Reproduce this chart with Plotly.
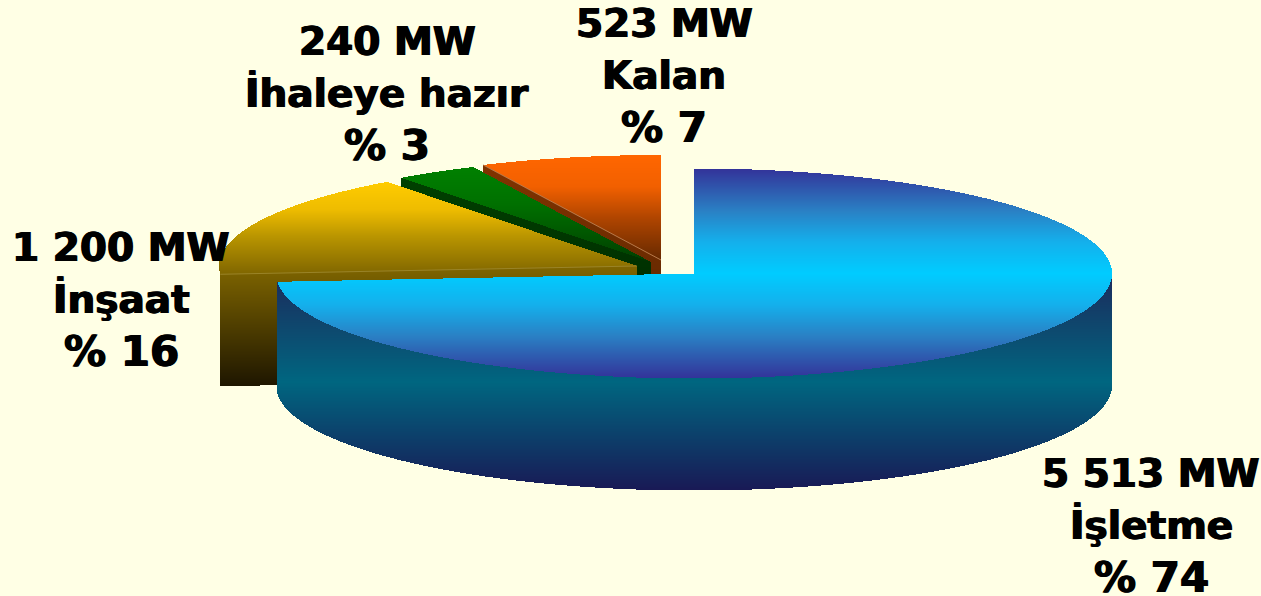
import numpy as np
import plotly.graph_objects as go

# ---- chart data ----
categories = ["İşletme", "İnşaat", "İhaleye hazır", "Kalan"]
mw_values = [5513, 1200, 240, 523]
mw_labels = ["5 513 MW", "1 200 MW", "240 MW", "523 MW"]
pct_labels = ["% 74", "% 16", "% 3", "% 7"]

# ---- style / layout ----
W, H = 1261, 596
BG = "#FFFFE5"
RX, RY, DEPTH = 418, 105, 112
centers = [(694, 273.5), (637, 266), (651, 262), (661, 260)]
top_scales = [
    [[0, "#333399"], [0.2, "#2A80C4"], [0.35, "#14B0EC"], [0.5, "#00CCFF"],
     [0.65, "#14B0EC"], [0.8, "#2A80C4"], [1, "#333399"]],
    [[0, "#FFCC00"], [0.3, "#EEBC00"], [0.6, "#B89400"], [1, "#806600"]],
    [[0, "#008000"], [0.4, "#007000"], [1, "#003F00"]],
    [[0, "#FF6600"], [0.3, "#F26000"], [0.6, "#B04500"], [1, "#662900"]],
]
cut_scales = [
    None,
    [[0, "#806600"], [1, "#1E1600"]],
    [[0, "#004000"], [1, "#002000"]],
    [[0, "#803300"], [1, "#552200"]],
]
side_scale = [[0, "#1C2A5C"], [0.5, "#006680"], [1, "#191955"]]
label_pos = [(1151, 473), (121, 247), (387, 41), (664, 23)]
LINE_GAP = 52
SHADOW = "0.7px 0 0 #000, -0.7px 0 0 #000"
FONT = dict(family="DejaVu Sans", size=39, color="#000000", shadow=SHADOW)
FONT_PCT = dict(family="DejaVu Sans", size=42, color="#000000", shadow=SHADOW)

yy, xx = np.mgrid[0:H, 0:W]
X = xx + 0.5
Y = yy + 0.5

fig = go.Figure()


def paint(mask, colors, y0=None, y1=None, name=""):
    rows = np.where(mask.any(axis=1))[0]
    cols = np.where(mask.any(axis=0))[0]
    r0, r1, c0, c1 = rows[0], rows[-1] + 1, cols[0], cols[-1] + 1
    sub = mask[r0:r1, c0:c1]
    ya = r0 if y0 is None else y0
    yb = r1 if y1 is None else y1
    z = np.clip((Y[r0:r1, c0:c1] - ya) / (yb - ya), 0, 1).astype("float32")
    z[~sub] = np.nan
    fig.add_trace(go.Heatmap(
        z=z, x0=c0 + 0.5, dx=1, y0=r0 + 0.5, dy=1, zmin=0, zmax=1,
        colorscale=colors, showscale=False, hoverinfo="skip", name=name,
    ))


total = sum(mw_values)
edges = np.concatenate([[0], np.cumsum(mw_values) / total * 360.0])


def edge_point(c, deg):
    t = np.radians(deg)
    return c[0] + RX * np.sin(t), c[1] - RY * np.cos(t)


def sector_mask(c, a0, a1):
    u = (X - c[0]) / RX
    v = (Y - c[1]) / RY
    th = np.degrees(np.arctan2(u, -v)) % 360
    return (u * u + v * v <= 1) & (th >= a0) & (th <= a1)


def cut_mask(c, deg):
    px, py = edge_point(c, deg)
    s = (c[1] - py) / (c[0] - px)
    line = py + s * (X - px)
    return (X >= px) & (X <= c[0]) & (Y >= line) & (Y <= line + DEPTH)


# back-to-front: last category first, first category last
for i in [3, 2, 1]:
    c = centers[i]
    a0, a1 = edges[i], edges[i + 1]
    paint(cut_mask(c, a0), cut_scales[i], name=categories[i] + " cut")
    paint(sector_mask(c, a0, a1), top_scales[i], name=categories[i])
    px, py = edge_point(c, a0)
    if i == 3:
        fig.add_trace(go.Scatter(x=[px, c[0]], y=[py, c[1]], mode="lines", hoverinfo="skip",
                                 line=dict(color="#B87A4A", width=1)))
    if i == 1:
        fig.add_trace(go.Scatter(x=[px, c[0]], y=[py, c[1]], mode="lines", hoverinfo="skip",
                                 line=dict(color="#9A8428", width=1)))

# main slice: extruded rim, then top
c = centers[0]
u = (X - c[0]) / RX
left_x = edge_point(c, edges[1])[0]
inside = np.abs(u) <= 1
low = c[1] + RY * np.sqrt(np.where(inside, 1 - u * u, 0))
rim = inside & (X >= left_x) & (Y >= low) & (Y <= low + DEPTH)
paint(rim, side_scale, y0=c[1], y1=c[1] + RY + DEPTH, name=categories[0] + " rim")
paint(sector_mask(c, edges[0], edges[1]), top_scales[0], name=categories[0])

# labels
for i, name in enumerate(categories):
    lx, ly = label_pos[i]
    for k, txt in enumerate([mw_labels[i], name, pct_labels[i]]):
        fig.add_annotation(x=lx, y=ly + k * LINE_GAP, text="<b>%s</b>" % txt, showarrow=False,
                           xanchor="center", yanchor="middle",
                           font=FONT_PCT if k == 2 else FONT)

fig.update_layout(
    width=W, height=H, margin=dict(l=0, r=0, t=0, b=0), showlegend=False,
    paper_bgcolor=BG, plot_bgcolor=BG,
    xaxis=dict(range=[0, W], visible=False, fixedrange=True),
    yaxis=dict(range=[H, 0], visible=False, fixedrange=True),
)
fig.write_html("out.html", config={"displayModeBar": False},
               post_script="document.body.style.margin='0';document.body.style.overflow='hidden';document.body.style.background='%s';" % BG)
